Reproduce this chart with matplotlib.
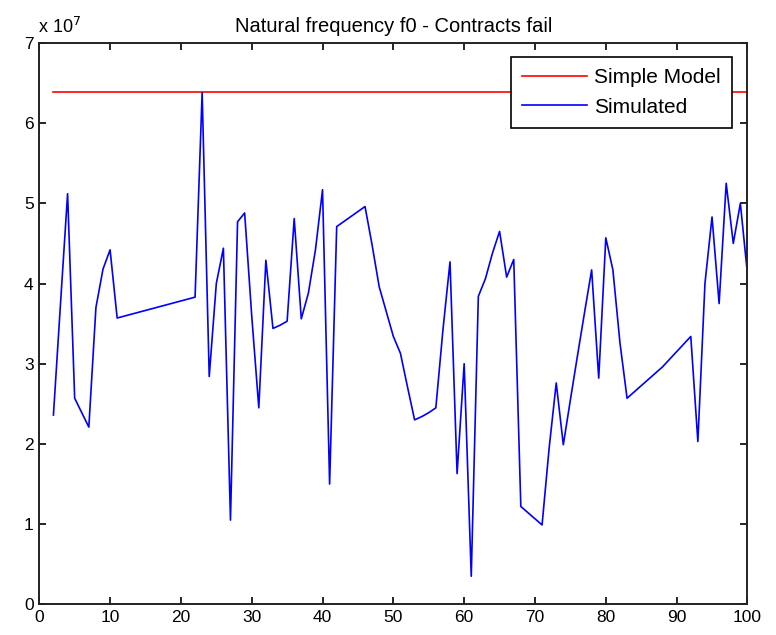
import numpy as np
import matplotlib
matplotlib.use("Agg")
import matplotlib.pyplot as plt
from matplotlib.ticker import FuncFormatter

plt.rcParams['font.family'] = ['Liberation Sans', 'DejaVu Sans']

# contract index (gaps = failed contracts) and simulated f0, in units of 1e7
contract = [2, 3, 4, 5, 7, 8, 9, 10, 11, 22, 23, 24, 25, 26, 27, 28, 29, 30,
            31, 32, 33, 34, 35, 36, 37, 38, 39, 40, 41, 42, 46, 47, 48, 49,
            50, 51, 52, 53, 54, 55, 56, 57, 58, 59, 60, 61, 62, 63, 64, 65,
            66, 67, 68, 71, 72, 73, 74, 75, 76, 77, 78, 79, 80, 81, 82, 83,
            88, 92, 93, 94, 95, 96, 97, 98, 99, 100]
f0_sim = [2.36, 3.75, 5.12, 2.57, 2.21, 3.70, 4.18, 4.42, 3.57, 3.83, 6.38,
          2.84, 4.00, 4.44, 1.05, 4.77, 4.88, 3.60, 2.45, 4.29, 3.44, 3.48,
          3.53, 4.81, 3.56, 3.88, 4.42, 5.17, 1.50, 4.71, 4.96, 4.48, 3.96,
          3.65, 3.34, 3.13, 2.71, 2.30, 2.34, 2.39, 2.45, 3.42, 4.27, 1.63,
          3.00, 0.35, 3.84, 4.06, 4.38, 4.65, 4.08, 4.30, 1.22, 0.99, 1.95,
          2.76, 1.99, 2.55, 3.10, 3.64, 4.17, 2.82, 4.57, 4.17, 3.26, 2.57,
          2.96, 3.34, 2.03, 4.00, 4.83, 3.75, 5.25, 4.50, 5.00, 4.12]
f0_model = 6.385  # simple model, units of 1e7
scale = 1e7

x = np.array(contract)
sim = np.array(f0_sim) * scale
model = np.full(len(x) + 1, f0_model * scale)
x_model = np.append(x, 105)

fig = plt.figure(figsize=(7.76, 6.35), dpi=100)
ax = fig.add_axes([0.0506, 0.0483, 0.9126, 0.8841])

ax.plot(x_model, model, color=(1, 0, 0), lw=1.2, label='Simple Model')
ax.plot(x, sim, color=(0, 0, 1), lw=1.2, label='Simulated')

ax.set_xlim(0, 100)
ax.set_ylim(0, 7 * scale)
ax.set_xticks(np.arange(0, 101, 10))
ax.set_yticks(np.arange(0, 8) * scale)
ax.yaxis.set_major_formatter(FuncFormatter(lambda v, p: '%d' % round(v / scale)))

ax.tick_params(direction='in', length=5, width=1.2, top=True, right=True,
               labelsize=12.5, pad=4, colors='black')
for s in ax.spines.values():
    s.set_linewidth(1.4)
    s.set_color('#222222')

ax.set_title('Natural frequency f0 - Contracts fail', fontsize=14.5, pad=8)
fig.text(38 / 776, 1 - 33 / 635, r'x 10$^{7}$', fontsize=13, ha='left', va='baseline')

leg = ax.legend(loc='upper right', bbox_to_anchor=(0.9785, 0.9754), borderaxespad=0,
                fontsize=15, handlelength=3.1, handletextpad=0.35, labelspacing=0.5,
                borderpad=0.55, fancybox=False, framealpha=1, edgecolor='black')
leg.get_frame().set_linewidth(1.2)

fig.savefig('out.png', dpi=100)
